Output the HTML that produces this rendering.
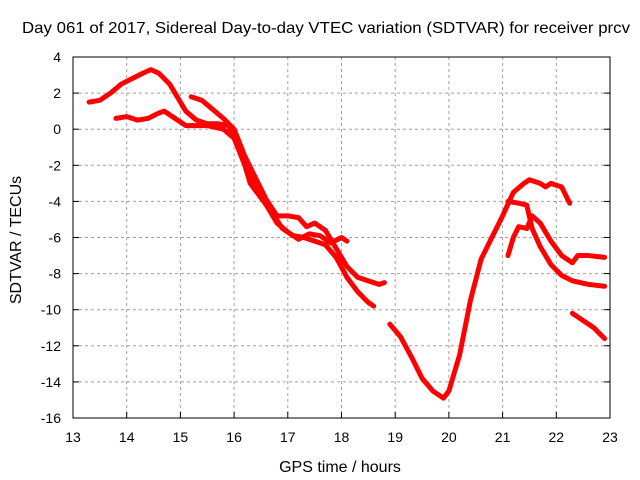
<!DOCTYPE html>
<html><head><meta charset="utf-8"><style>
body{margin:0;background:#fff;}
svg{display:block;font-family:"Liberation Sans",sans-serif;}
</style></head><body>
<svg id="chart" width="640" height="480">
<rect width="640" height="480" fill="#fff"/>
<text x="22" y="33" font-size="16" textLength="608" lengthAdjust="spacingAndGlyphs">Day 061 of 2017, Sidereal Day-to-day VTEC variation (SDTVAR) for receiver prcv</text>
<text x="340" y="472" font-size="16" text-anchor="middle">GPS time / hours</text>
<text transform="translate(21,240) rotate(-90)" font-size="16" text-anchor="middle">SDTVAR / TECUs</text>
<g id="grid"></g><g id="ticks"></g><g id="series"></g>
<rect x="73" y="57" width="537" height="361" fill="none" stroke="#000" stroke-width="1"/>
</svg>
<script>
const xTicks=[13,14,15,16,17,18,19,20,21,22,23];
const yTicks=[4,2,0,-2,-4,-6,-8,-10,-12,-14,-16];
const seriesA=[[13.3,1.5],[13.5,1.6],[13.7,2.0],[13.9,2.5],[14.1,2.8],[14.3,3.1],[14.45,3.3],[14.6,3.1],[14.8,2.5],[15.0,1.5],[15.1,1.0],[15.3,0.5],[15.5,0.3],[15.7,0.3],[15.9,0.2],[16.0,-0.5],[16.2,-2],[16.3,-3],[16.5,-3.8],[16.7,-4.6],[16.9,-5.5],[17.1,-5.9],[17.3,-6.0],[17.5,-6.2],[17.7,-6.4],[17.9,-7.1],[18.1,-8.2],[18.3,-9.0],[18.5,-9.6],[18.6,-9.8]];
const seriesA2=[[18.9,-10.8],[19.1,-11.5],[19.3,-12.6],[19.5,-13.8],[19.7,-14.5],[19.9,-14.9],[20.0,-14.5],[20.2,-12.5],[20.4,-9.5],[20.6,-7.2],[20.8,-6.0],[21.0,-4.8],[21.2,-3.5],[21.4,-3.0],[21.5,-2.8],[21.7,-3.0],[21.8,-3.2],[21.9,-3.0],[22.1,-3.2],[22.25,-4.1]];
const seriesB=[[13.8,0.6],[14.0,0.7],[14.2,0.5],[14.4,0.6],[14.6,0.9],[14.7,1.0],[14.9,0.6],[15.1,0.2],[15.3,0.2],[15.5,0.2],[15.8,0.0],[16.0,-0.5],[16.2,-1.8],[16.4,-3.2],[16.6,-4.2],[16.8,-5.2],[17.0,-5.7],[17.2,-6.1],[17.4,-5.8],[17.6,-5.9],[17.8,-6.3],[18.0,-6.0],[18.1,-6.2]];
const seriesC=[[15.2,1.8],[15.4,1.6],[15.6,1.1],[15.8,0.6],[16.0,0.0],[16.2,-1.5],[16.4,-2.7],[16.6,-3.9],[16.8,-4.8],[17.0,-4.8],[17.2,-4.9],[17.35,-5.4],[17.5,-5.2],[17.7,-5.6],[17.9,-6.6],[18.1,-7.6],[18.3,-8.2],[18.5,-8.4],[18.7,-8.6],[18.8,-8.5]];
const seriesD=[[21.1,-7.0],[21.2,-6.0],[21.3,-5.4],[21.45,-5.5],[21.55,-4.8],[21.7,-5.2],[21.9,-6.2],[22.1,-7.0],[22.3,-7.4],[22.4,-7.0],[22.6,-7.0],[22.9,-7.1]];
const seriesE=[[21.1,-4.0],[21.3,-4.1],[21.45,-4.2],[21.55,-5.5],[21.7,-6.5],[21.9,-7.5],[22.1,-8.1],[22.3,-8.4],[22.6,-8.6],[22.9,-8.7]];
const seriesF=[[22.3,-10.2],[22.5,-10.6],[22.7,-11.0],[22.9,-11.6]];
const allSeries=[seriesA,seriesA2,seriesB,seriesC,seriesD,seriesE,seriesF];
const X0=73,X1=610,Y0=57,Y1=418;
const xs=h=>X0+(h-13)/10*(X1-X0);
const ys=v=>Y0+(4-v)/20*(Y1-Y0);
const NS="http://www.w3.org/2000/svg";
function mk(t,a,p){const e=document.createElementNS(NS,t);for(const k in a)e.setAttribute(k,a[k]);p.appendChild(e);return e;}
const grid=document.getElementById('grid'),ticks=document.getElementById('ticks'),ser=document.getElementById('series');
xTicks.forEach(t=>{const x=xs(t);
 if(t>13&&t<23){const g=mk('line',{x1:x,x2:x,y1:Y0,y2:Y1,stroke:'#a0a0a0','stroke-dasharray':'3,3'},grid);
 
 }
 const tl=mk('line',{x1:x,x2:x,y1:Y1,y2:Y1-6,stroke:'#000'},ticks);
 
 
 const tx=mk('text',{x:x,y:Y1+24,'font-size':14,'text-anchor':'middle'},ticks);tx.textContent=t;
 
 });
yTicks.forEach(t=>{const y=ys(t);
 if(t<4&&t>-16){const g=mk('line',{x1:X0,x2:X1,y1:y,y2:y,stroke:'#a0a0a0','stroke-dasharray':'3,3'},grid);
 
 }
 const tl=mk('line',{x1:X0,x2:X0+6,y1:y,y2:y,stroke:'#000'},ticks);
 
 
 const tr=mk('line',{x1:X1,x2:X1-6,y1:y,y2:y,stroke:'#000'},ticks);
 
 
 const tx=mk('text',{x:X0-12,y:y+5,'font-size':14,'text-anchor':'end'},ticks);tx.textContent=t;
 
 });
allSeries.forEach(s=>{
 const p=mk('polyline',{points:s.map(d=>xs(d[0])+','+ys(d[1])).join(' '),fill:'none',stroke:'#ff0000','stroke-width':5,'stroke-linejoin':'round','stroke-linecap':'round'},ser);
 
 
});
</script>
</body></html>
